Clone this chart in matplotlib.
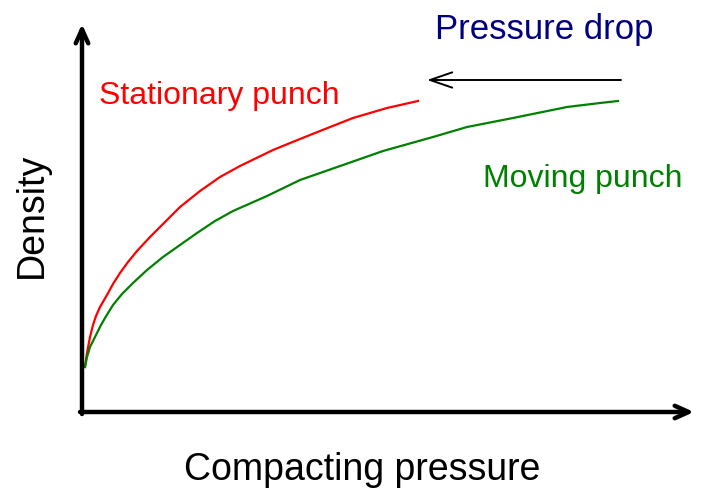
import matplotlib
matplotlib.use('Agg')
import matplotlib.pyplot as plt

plt.rcParams['font.family'] = ['Liberation Sans', 'DejaVu Sans']

# curve points (x = pressure, y = density, canvas pixels from top)
H = 499
stat_x = [85, 87, 90, 93, 96, 100, 107, 113, 120, 128, 137, 150, 163, 180, 200, 220, 240, 273, 300, 320, 353, 387, 418]
stat_y = [367, 353, 337, 325, 316, 307, 295, 284, 273, 262, 251, 237, 224, 207, 191, 177, 166, 150, 139, 131, 118, 108, 101]
mov_x = [85, 87, 90, 94, 97, 101, 105, 113, 122, 133, 147, 163, 180, 197, 215, 233, 267, 300, 343, 383, 433, 467, 513, 567, 600, 618]
mov_y = [367, 357, 347, 339, 333, 325, 318, 305, 294, 283, 270, 257, 245, 233, 221, 211, 196, 180, 165, 151, 137, 127, 118, 107, 103, 101]

fig = plt.figure(figsize=(7.01, 4.99), dpi=100)
ax = fig.add_axes([0, 0, 1, 1])
ax.set_xlim(0, 701)
ax.set_ylim(0, H)
ax.axis('off')

ax.plot(stat_x, [H - y for y in stat_y], color='red', lw=1.6)
ax.plot(mov_x, [H - y for y in mov_y], color='green', lw=1.6)

# axes with open arrow heads
arrow = dict(arrowstyle='->,head_length=1.0,head_width=0.45', lw=3.2, color='black',
             shrinkA=0, shrinkB=0)
ax.annotate('', xy=(82, H - 24), xytext=(82, H - 414), arrowprops=arrow)
ax.annotate('', xy=(694, H - 412), xytext=(80, H - 412), arrowprops=arrow)

# pressure drop arrow
ax.annotate('', xy=(427, H - 80), xytext=(621, H - 80),
            arrowprops=dict(arrowstyle='->,head_length=1.6,head_width=0.55', lw=1.4,
                            color='black', shrinkA=0, shrinkB=0))

ax.text(32, H - 215, 'Density', rotation=90, fontsize=27, ha='center', va='center')
ax.text(362, H - 470, 'Compacting pressure', fontsize=27, ha='center', va='center')
ax.text(219, H - 96, 'Stationary punch', fontsize=23, color='red', ha='center', va='center')
ax.text(583, H - 179, 'Moving punch', fontsize=23, color='green', ha='center', va='center')
ax.text(544, H - 29, 'Pressure drop', fontsize=25, color='navy', ha='center', va='center')

fig.savefig('out.png', dpi=100)
